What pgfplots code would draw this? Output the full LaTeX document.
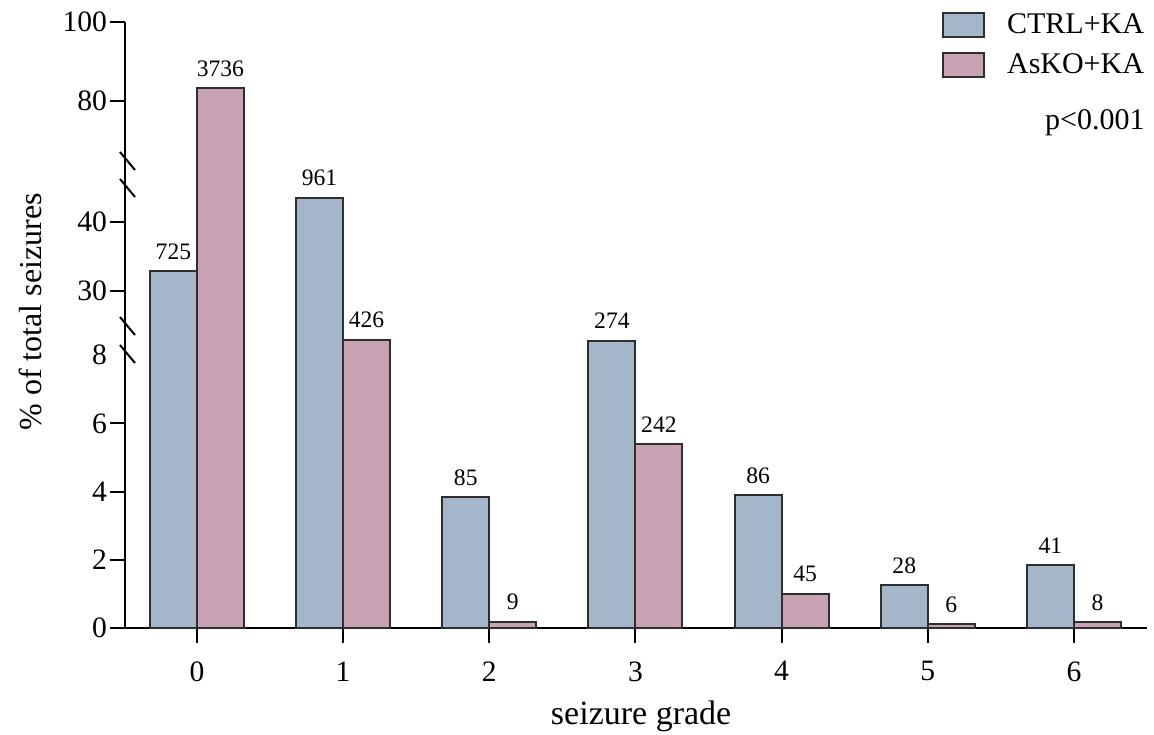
\documentclass[border=0pt]{standalone}
\usepackage{pgfplots}
\usepackage{pgfplotstable}
\pgfplotsset{compat=1.18}
\usepackage{fontspec}
\setmainfont{Liberation Serif}
\definecolor{ctrl}{HTML}{A4B6C9}
\definecolor{asko}{HTML}{C9A1B4}
\definecolor{edge}{HTML}{2E2E2E}
\pgfplotsset{boxlegend/.style={legend image code/.code={\draw[##1, line width=1pt] (0pt,-6pt) rectangle (20.5pt,6pt);}}}
\pgfplotstableread{
x y n
0 32.9 725
1 43.5 961
2 3.84 85
3 8.43 274
4 3.90 86
5 1.26 28
6 1.85 41
}\ctrldata
\pgfplotstableread{
x y n
0 83.3 3736
1 8.45 426
2 0.18 9
3 5.40 242
4 1.00 45
5 0.12 6
6 0.17 8
}\askodata
\begin{document}
\begin{tikzpicture}
\begin{axis}[
  scale only axis, width=511pt, height=303pt,
  xmin=-0.492, xmax=6.5, ymin=0, ymax=100,
  y coord trafo/.code={\pgfmathparse{(#1<20)*(#1)+and(#1>=20,#1<60)*(9.883+(#1-30)*0.2023)+(#1>=60)*(15.455+(#1-80)*0.11584)}},
  axis lines=left, axis line style={-, line width=1pt, black},
  clip=false,
  ybar=0pt, bar width=23.5pt,
  tick align=outside, major tick length=7.5pt,
  tick style={line width=1pt, black},
  xtick={0,1,2,3,4,5,6},
  ytick={0,2,4,6,30,40,80,100},
  yticklabels={0,2,4,6,30,40,80,100},
  extra y ticks={8}, extra y tick labels={8},
  extra y tick style={major tick style={draw=none}},
  /pgf/number format/assume math mode=true,
  tick label style={font=\fontsize{14.8}{17}\selectfont},
  xticklabel style={yshift=-5.7pt},
  yticklabel style={xshift=2pt},
  xlabel={seizure grade},
  ylabel={\% of total seizures},
  label style={font=\fontsize{16}{19}\selectfont},
  xlabel style={at={(axis description cs:0.505,-0.146)}, anchor=center, font=\fontsize{17}{20}\selectfont},
  ylabel style={at={(axis description cs:-0.093,0.5215)}, anchor=center},
  legend cell align=left,
  legend style={at={(rel axis cs:1,1)}, anchor=north east, xshift=0.5pt, yshift=6.25pt,
    draw=none, fill=none, font=\fontsize{15}{18}\selectfont, row sep=4.5pt, column sep=9pt, inner sep=0pt, outer sep=0pt},
  every node near coord/.append style={font=\fontsize{11.8}{13}\selectfont, yshift=2pt, black},
]
\addplot[fill=ctrl, draw=edge, line width=1pt, nodes near coords, point meta=explicit symbolic, boxlegend]
  table[x=x, y=y, meta=n] {\ctrldata};
\addplot[fill=asko, draw=edge, line width=1pt, nodes near coords, point meta=explicit symbolic, boxlegend]
  table[x=x, y=y, meta=n] {\askodata};
\legend{CTRL+KA, AsKO+KA}
\draw[line width=1pt] ([xshift=-2.5pt,yshift=4.5pt]rel axis cs:0,0.7706) -- ([xshift=5pt,yshift=-4.5pt]rel axis cs:0,0.7706);
\draw[line width=1pt] ([xshift=-2.5pt,yshift=4.5pt]rel axis cs:0,0.7261) -- ([xshift=5pt,yshift=-4.5pt]rel axis cs:0,0.7261);
\draw[line width=1pt] ([xshift=-2.5pt,yshift=4.5pt]rel axis cs:0,0.4983) -- ([xshift=5pt,yshift=-4.5pt]rel axis cs:0,0.4983);
\draw[line width=1pt] ([xshift=-2.5pt,yshift=4.5pt]rel axis cs:0,0.4521) -- ([xshift=5pt,yshift=-4.5pt]rel axis cs:0,0.4521);
\node[anchor=east, font=\fontsize{15}{18}\selectfont, inner sep=0pt] at ([xshift=-1pt,yshift=-50.5pt]rel axis cs:1,1) {p<0.001};
\coordinate (bl) at ([xshift=-62.5pt,yshift=-53.5pt]rel axis cs:0,0);
\coordinate (tr) at ([xshift=3.5pt,yshift=11pt]rel axis cs:1,1);
\end{axis}
\pgfresetboundingbox
\path[use as bounding box] (bl) rectangle (tr);
\end{tikzpicture}
\end{document}
